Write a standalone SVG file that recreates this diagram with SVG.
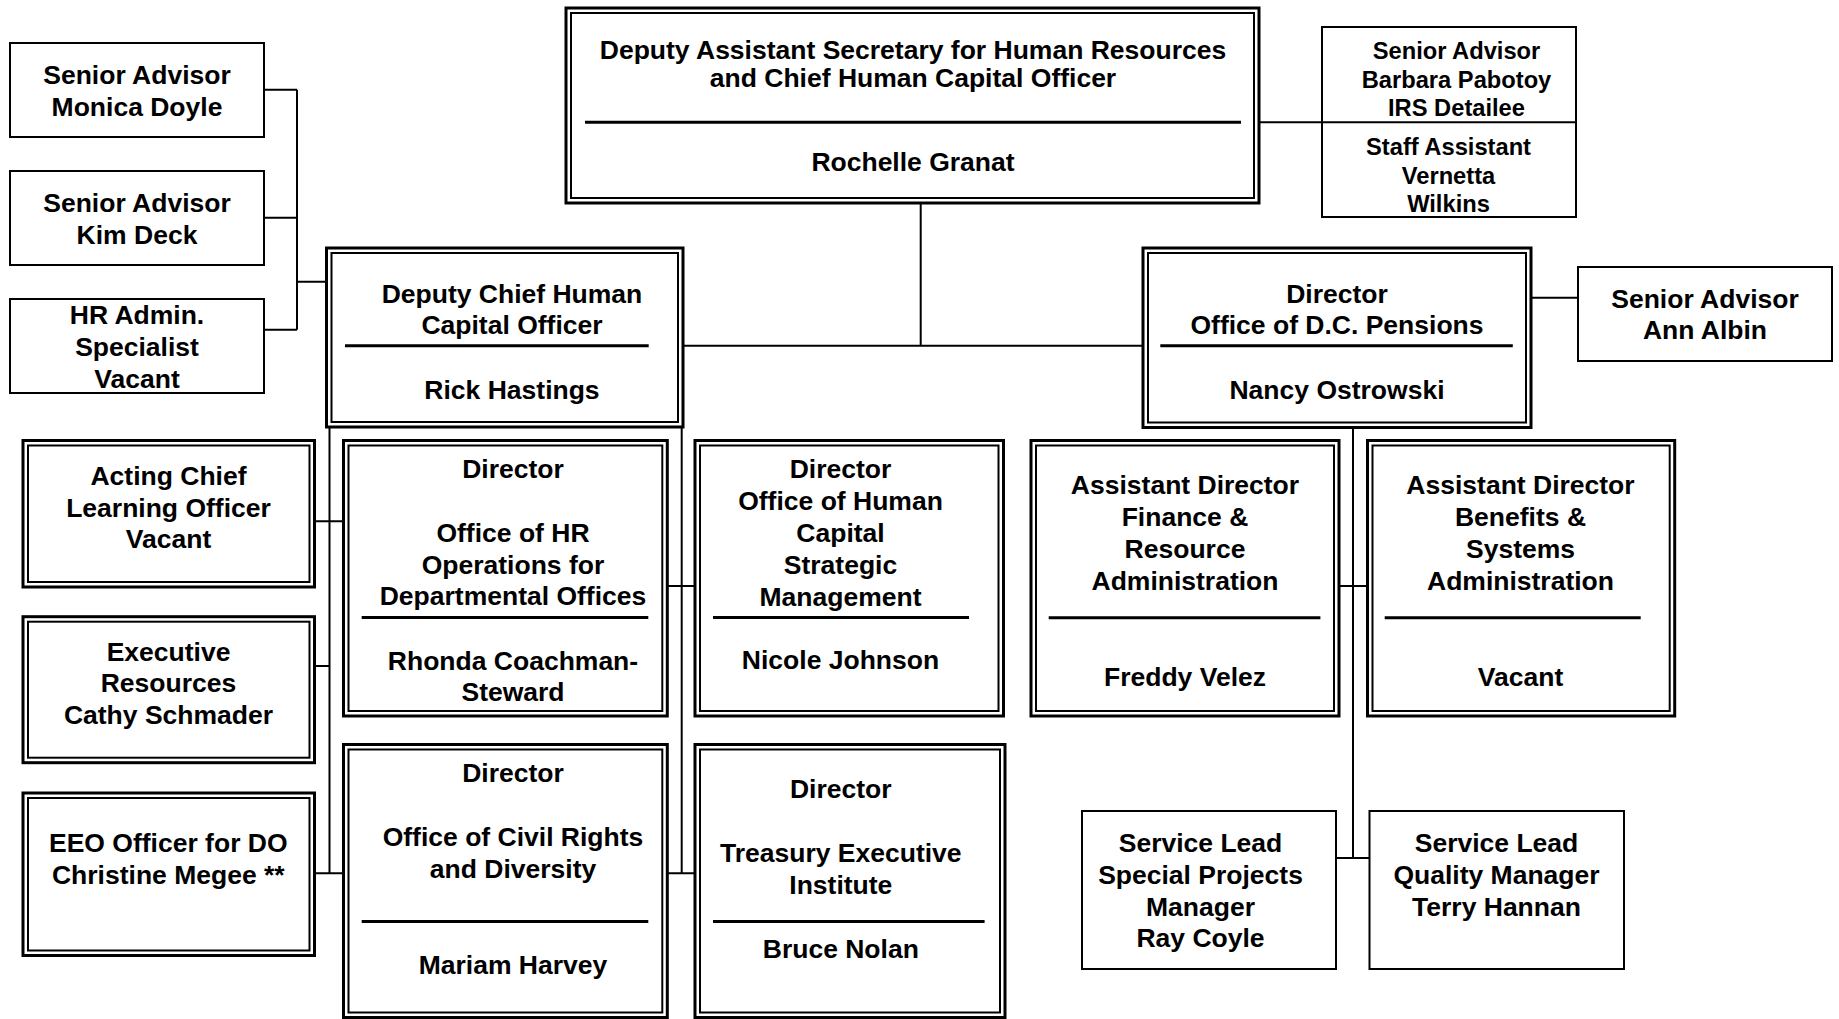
<svg xmlns="http://www.w3.org/2000/svg" width="1839" height="1019" viewBox="0 0 1839 1019">
<style>
.t{font-family:"Liberation Sans",Arial,sans-serif;font-weight:bold;font-size:26.5px;text-anchor:middle;fill:#000}
.s{font-size:23.7px}
.o{fill:none;stroke:#000;stroke-width:3}
.i{fill:none;stroke:#000;stroke-width:2}
.b{fill:#fff;stroke:#000;stroke-width:2}
.d{stroke:#000;stroke-width:3}
.c{stroke:#000;stroke-width:2;fill:none}
</style>
<rect width="1839" height="1019" fill="#fff"/>
<g id="connectors">
<path class="c" d="M920.7 203V345.7M683 345.7H1143M1259 122.3H1322M1531 297.7H1578"/>
<path class="c" d="M297 89.7V329.7M264 89.7H297M264 217.7H297M264 329.7H297M297 281.7H326.5"/>
<path class="c" d="M329.5 427V873.3M681.7 427V873.3M314.5 521.3H343.5M314.5 665.9H329.5M314.5 873.3H343.5M667.3 585.9H695M667.3 873.3H695"/>
<path class="c" d="M1353 427.5V858M1339 585.9H1367.5M1336 858H1369.5"/>
</g>
<g id="n-das">
<rect class="o" x="566" y="8" width="693" height="195"/><rect class="i" x="571" y="13" width="683" height="185"/>
<line class="d" x1="585" y1="122.3" x2="1241" y2="122.3"/>
<text class="t" x="913" y="59">Deputy Assistant Secretary for Human Resources</text>
<text class="t" x="913" y="86.5">and Chief Human Capital Officer</text>
<text class="t" x="913" y="171">Rochelle Granat</text>
</g>
<g id="n-barbara">
<rect class="b" x="1322" y="27" width="254" height="190"/>
<line class="c" x1="1322" y1="122.3" x2="1576" y2="122.3"/>
<text class="t s" x="1456.5" y="59">Senior Advisor</text>
<text class="t s" x="1456.5" y="88">Barbara Pabotoy</text>
<text class="t s" x="1456.5" y="115.5">IRS Detailee</text>
<text class="t s" x="1448.5" y="155">Staff Assistant</text>
<text class="t s" x="1448.5" y="184">Vernetta</text>
<text class="t s" x="1448.5" y="211.5">Wilkins</text>
</g>
<g id="n-monica">
<rect class="b" x="10" y="43" width="254" height="94"/>
<text class="t" x="137" y="84">Senior Advisor</text>
<text class="t" x="137" y="115.5">Monica Doyle</text>
</g>
<g id="n-kim">
<rect class="b" x="10" y="171" width="254" height="94"/>
<text class="t" x="137" y="212">Senior Advisor</text>
<text class="t" x="137" y="243.5">Kim Deck</text>
</g>
<g id="n-hradmin">
<rect class="b" x="10" y="299" width="254" height="94"/>
<text class="t" x="137" y="324">HR Admin.</text>
<text class="t" x="137" y="356">Specialist</text>
<text class="t" x="137" y="387.5">Vacant</text>
</g>
<g id="n-deputy">
<rect class="o" x="326.5" y="248" width="356.5" height="179"/><rect class="i" x="331.5" y="253" width="346.5" height="169"/>
<line class="d" x1="345" y1="345.7" x2="648.7" y2="345.7"/>
<text class="t" x="512" y="302.5">Deputy Chief Human</text>
<text class="t" x="512" y="334">Capital Officer</text>
<text class="t" x="512" y="398.5">Rick Hastings</text>
</g>
<g id="n-pensions">
<rect class="o" x="1143" y="248" width="388" height="179.5"/><rect class="i" x="1148" y="253" width="378" height="169.5"/>
<line class="d" x1="1160.3" y1="345.7" x2="1512.8" y2="345.7"/>
<text class="t" x="1337" y="302.5">Director</text>
<text class="t" x="1337" y="334">Office of D.C. Pensions</text>
<text class="t" x="1337" y="398.5">Nancy Ostrowski</text>
</g>
<g id="n-albin">
<rect class="b" x="1578" y="267" width="254" height="94"/>
<text class="t" x="1705" y="307.5">Senior Advisor</text>
<text class="t" x="1705" y="339">Ann Albin</text>
</g>
<g id="n-learning">
<rect class="o" x="23" y="440.5" width="291.5" height="146.5"/><rect class="i" x="28" y="445.5" width="281.5" height="136.5"/>
<text class="t" x="168.5" y="484.5">Acting Chief</text>
<text class="t" x="168.5" y="516.5">Learning Officer</text>
<text class="t" x="168.5" y="548">Vacant</text>
</g>
<g id="n-exec">
<rect class="o" x="23" y="616.7" width="291.5" height="146"/><rect class="i" x="28" y="621.7" width="281.5" height="136"/>
<text class="t" x="168.5" y="660.5">Executive</text>
<text class="t" x="168.5" y="692">Resources</text>
<text class="t" x="168.5" y="723.7">Cathy Schmader</text>
</g>
<g id="n-eeo">
<rect class="o" x="23" y="793" width="291.5" height="162.5"/><rect class="i" x="28" y="798" width="281.5" height="152.5"/>
<text class="t" x="168.3" y="852">EEO Officer for DO</text>
<text class="t" x="168.3" y="884">Christine Megee **</text>
</g>
<g id="n-hrops">
<rect class="o" x="343.5" y="440.5" width="323.8" height="275.5"/><rect class="i" x="348.5" y="445.5" width="313.8" height="265.5"/>
<line class="d" x1="361.7" y1="617.5" x2="648.3" y2="617.5"/>
<text class="t" x="513" y="478">Director</text>
<text class="t" x="513" y="542">Office of HR</text>
<text class="t" x="513" y="573.5">Operations for</text>
<text class="t" x="513" y="605">Departmental Offices</text>
<text class="t" x="513" y="670">Rhonda Coachman-</text>
<text class="t" x="513" y="701">Steward</text>
</g>
<g id="n-civil">
<rect class="o" x="343.5" y="744.5" width="323.8" height="273"/><rect class="i" x="348.5" y="749.5" width="313.8" height="263"/>
<line class="d" x1="361.7" y1="921.4" x2="648.3" y2="921.4"/>
<text class="t" x="513" y="782">Director</text>
<text class="t" x="513" y="846">Office of Civil Rights</text>
<text class="t" x="513" y="878">and Diversity</text>
<text class="t" x="513" y="973.5">Mariam Harvey</text>
</g>
<g id="n-hcsm">
<rect class="o" x="695" y="440.5" width="308.5" height="275.5"/><rect class="i" x="700" y="445.5" width="298.5" height="265.5"/>
<line class="d" x1="713" y1="617.5" x2="969" y2="617.5"/>
<text class="t" x="840.5" y="478">Director</text>
<text class="t" x="840.5" y="510">Office of Human</text>
<text class="t" x="840.5" y="542">Capital</text>
<text class="t" x="840.5" y="574">Strategic</text>
<text class="t" x="840.5" y="606">Management</text>
<text class="t" x="840.5" y="669">Nicole Johnson</text>
</g>
<g id="n-tei">
<rect class="o" x="695" y="744.5" width="310" height="273"/><rect class="i" x="700" y="749.5" width="300" height="263"/>
<line class="d" x1="713" y1="921.4" x2="984.6" y2="921.4"/>
<text class="t" x="840.8" y="797.5">Director</text>
<text class="t" x="840.8" y="862">Treasury Executive</text>
<text class="t" x="840.8" y="894">Institute</text>
<text class="t" x="840.8" y="957.5">Bruce Nolan</text>
</g>
<g id="n-finance">
<rect class="o" x="1031" y="440.5" width="308" height="275.5"/><rect class="i" x="1036" y="445.5" width="298" height="265.5"/>
<line class="d" x1="1048.7" y1="617.8" x2="1320.4" y2="617.8"/>
<text class="t" x="1185" y="494">Assistant Director</text>
<text class="t" x="1185" y="526">Finance &amp;</text>
<text class="t" x="1185" y="558">Resource</text>
<text class="t" x="1185" y="590">Administration</text>
<text class="t" x="1185" y="686">Freddy Velez</text>
</g>
<g id="n-benefits">
<rect class="o" x="1367.5" y="440.5" width="307.2" height="275.5"/><rect class="i" x="1372.5" y="445.5" width="297.2" height="265.5"/>
<line class="d" x1="1384.7" y1="617.8" x2="1640.7" y2="617.8"/>
<text class="t" x="1520.5" y="494">Assistant Director</text>
<text class="t" x="1520.5" y="526">Benefits &amp;</text>
<text class="t" x="1520.5" y="558">Systems</text>
<text class="t" x="1520.5" y="590">Administration</text>
<text class="t" x="1520.5" y="686">Vacant</text>
</g>
<g id="n-special">
<rect class="b" x="1082" y="811" width="254" height="158"/>
<text class="t" x="1200.5" y="852">Service Lead</text>
<text class="t" x="1200.5" y="884">Special Projects</text>
<text class="t" x="1200.5" y="915.5">Manager</text>
<text class="t" x="1200.5" y="947">Ray Coyle</text>
</g>
<g id="n-quality">
<rect class="b" x="1369.5" y="811" width="254.5" height="158"/>
<text class="t" x="1496.5" y="852">Service Lead</text>
<text class="t" x="1496.5" y="884">Quality Manager</text>
<text class="t" x="1496.5" y="915.5">Terry Hannan</text>
</g>
</svg>
